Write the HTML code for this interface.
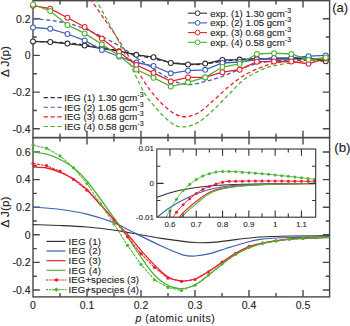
<!DOCTYPE html>
<html><head><meta charset="utf-8"><style>
html,body{margin:0;padding:0;background:#fff;width:350px;height:326px;overflow:hidden}
svg{display:block}
text{stroke:#222;stroke-width:0.12px}
.thin text{stroke-width:0.08px}
</style></head><body>
<svg width="350" height="326" viewBox="0 0 350 326"><defs><clipPath id="ca"><rect x="29" y="-5" width="304.6" height="142.6"/></clipPath><clipPath id="cb"><rect x="29" y="137.6" width="304.6" height="159.3"/></clipPath><clipPath id="ci"><rect x="156.8" y="149" width="158.9" height="68.2"/></clipPath></defs><g fill="none" stroke="#484848" stroke-width="1.4"><rect x="33.0" y="0.7" width="296.60" height="136.90"/><rect x="33.0" y="137.6" width="296.60" height="159.30"/><path d="M33.0,18.70h6.8M329.6,18.70h-6.8M33.0,55.40h6.8M329.6,55.40h-6.8M33.0,92.10h6.8M329.6,92.10h-6.8M33.0,128.80h6.8M329.6,128.80h-6.8M33.0,37.05h3.8M329.6,37.05h-3.8M33.0,73.75h3.8M329.6,73.75h-3.8M33.0,110.45h3.8M329.6,110.45h-3.8M87.00,0.7v6.8M87.00,137.6v-6.8M141.00,0.7v6.8M141.00,137.6v-6.8M195.00,0.7v6.8M195.00,137.6v-6.8M249.00,0.7v6.8M249.00,137.6v-6.8M303.00,0.7v6.8M303.00,137.6v-6.8M60.00,0.7v3.8M60.00,137.6v-3.8M114.00,0.7v3.8M114.00,137.6v-3.8M168.00,0.7v3.8M168.00,137.6v-3.8M222.00,0.7v3.8M222.00,137.6v-3.8M276.00,0.7v3.8M276.00,137.6v-3.8"/><path d="M33.0,152.00h6.8M329.6,152.00h-6.8M33.0,179.60h6.8M329.6,179.60h-6.8M33.0,207.20h6.8M329.6,207.20h-6.8M33.0,234.80h6.8M329.6,234.80h-6.8M33.0,262.40h6.8M329.6,262.40h-6.8M33.0,290.00h6.8M329.6,290.00h-6.8M33.0,165.80h3.8M329.6,165.80h-3.8M33.0,193.40h3.8M329.6,193.40h-3.8M33.0,221.00h3.8M329.6,221.00h-3.8M33.0,248.60h3.8M329.6,248.60h-3.8M33.0,276.20h3.8M329.6,276.20h-3.8M87.00,137.6v6.8M87.00,296.9v-6.8M141.00,137.6v6.8M141.00,296.9v-6.8M195.00,137.6v6.8M195.00,296.9v-6.8M249.00,137.6v6.8M249.00,296.9v-6.8M303.00,137.6v6.8M303.00,296.9v-6.8M60.00,137.6v3.8M60.00,296.9v-3.8M114.00,137.6v3.8M114.00,296.9v-3.8M168.00,137.6v3.8M168.00,296.9v-3.8M222.00,137.6v3.8M222.00,296.9v-3.8M276.00,137.6v3.8M276.00,296.9v-3.8"/></g><g clip-path="url(#ca)" fill="none"><path d="M33.00,41.50 C37.50,41.67 50.50,41.83 60.00,42.50 C69.50,43.17 80.00,44.08 90.00,45.50 C100.00,46.92 110.00,48.92 120.00,51.00 C130.00,53.08 140.83,56.00 150.00,58.00 C159.17,60.00 167.50,61.92 175.00,63.00 C182.50,64.08 188.33,64.58 195.00,64.50 C201.67,64.42 207.50,63.33 215.00,62.50 C222.50,61.67 230.83,60.17 240.00,59.50 C249.17,58.83 260.00,58.62 270.00,58.50 C280.00,58.38 290.07,58.72 300.00,58.80 C309.93,58.88 324.67,58.97 329.60,59.00" stroke="#303030" stroke-width="1.3" stroke-dasharray="4,2.6"/><path d="M33.00,18.60 C36.67,19.00 47.17,19.60 55.00,21.00 C62.83,22.40 70.00,23.27 80.00,27.00 C90.00,30.73 105.00,37.90 115.00,43.40 C125.00,48.90 130.55,53.92 140.00,60.00 C149.45,66.08 163.62,75.82 171.70,79.90 C179.78,83.98 182.88,84.25 188.50,84.50 C194.12,84.75 199.67,82.78 205.40,81.40 C211.13,80.02 217.07,78.25 222.90,76.20 C228.73,74.15 234.63,71.22 240.40,69.10 C246.17,66.98 250.90,64.93 257.50,63.50 C264.10,62.07 271.25,61.17 280.00,60.50 C288.75,59.83 301.73,59.70 310.00,59.50 C318.27,59.30 326.33,59.33 329.60,59.30" stroke="#4060b5" stroke-width="1.3" stroke-dasharray="4,2.6"/><path d="M82.00,-12.00 C83.50,-10.00 87.17,-5.33 91.00,0.00 C94.83,5.33 100.40,13.33 105.00,20.00 C109.60,26.67 113.77,32.50 118.60,40.00 C123.43,47.50 128.77,56.67 134.00,65.00 C139.23,73.33 144.72,82.97 150.00,90.00 C155.28,97.03 160.47,102.80 165.70,107.20 C170.93,111.60 176.15,115.35 181.40,116.40 C186.65,117.45 191.95,116.08 197.20,113.50 C202.45,110.92 207.67,105.37 212.90,100.90 C218.13,96.43 223.37,90.98 228.60,86.70 C233.83,82.42 239.07,78.33 244.30,75.20 C249.53,72.07 254.88,69.93 260.00,67.90 C265.12,65.87 268.33,64.23 275.00,63.00 C281.67,61.77 290.90,61.00 300.00,60.50 C309.10,60.00 324.67,60.08 329.60,60.00" stroke="#ec1e2e" stroke-width="1.3" stroke-dasharray="4,2.6"/><path d="M88.00,-12.00 C89.33,-10.00 93.00,-5.00 96.00,0.00 C99.00,5.00 102.52,11.67 106.00,18.00 C109.48,24.33 112.90,30.33 116.90,38.00 C120.90,45.67 125.72,55.38 130.00,64.00 C134.28,72.62 139.27,83.53 142.60,89.70 C145.93,95.87 146.15,96.25 150.00,101.00 C153.85,105.75 160.72,113.90 165.70,118.20 C170.68,122.50 174.65,126.02 179.90,126.80 C185.15,127.58 191.70,125.65 197.20,122.90 C202.70,120.15 207.67,115.02 212.90,110.30 C218.13,105.58 223.37,99.77 228.60,94.60 C233.83,89.43 239.07,83.32 244.30,79.30 C249.53,75.28 254.88,72.80 260.00,70.50 C265.12,68.20 268.33,66.92 275.00,65.50 C281.67,64.08 290.90,62.75 300.00,62.00 C309.10,61.25 324.67,61.17 329.60,61.00" stroke="#4eb234" stroke-width="1.3" stroke-dasharray="4,2.6"/><path d="M33.00,41.40 L50.22,42.00 L67.44,43.60 L84.66,45.60 L101.88,48.50 L119.10,51.20 L136.32,54.80 L153.54,57.20 L170.76,63.00 L187.98,64.50 L205.20,63.60 L222.42,60.00 L239.64,59.60 L256.86,58.60 L274.08,59.00 L291.30,58.50 L308.52,58.00 L325.74,61.30" stroke="#303030" stroke-width="1.3"/><circle cx="33.00" cy="41.40" r="2.45" fill="#fff" stroke="#303030" stroke-width="1.05"/><circle cx="50.22" cy="42.00" r="2.45" fill="#fff" stroke="#303030" stroke-width="1.05"/><circle cx="67.44" cy="43.60" r="2.45" fill="#fff" stroke="#303030" stroke-width="1.05"/><circle cx="84.66" cy="45.60" r="2.45" fill="#fff" stroke="#303030" stroke-width="1.05"/><circle cx="101.88" cy="48.50" r="2.45" fill="#fff" stroke="#303030" stroke-width="1.05"/><circle cx="119.10" cy="51.20" r="2.45" fill="#fff" stroke="#303030" stroke-width="1.05"/><circle cx="136.32" cy="54.80" r="2.45" fill="#fff" stroke="#303030" stroke-width="1.05"/><circle cx="153.54" cy="57.20" r="2.45" fill="#fff" stroke="#303030" stroke-width="1.05"/><circle cx="170.76" cy="63.00" r="2.45" fill="#fff" stroke="#303030" stroke-width="1.05"/><circle cx="187.98" cy="64.50" r="2.45" fill="#fff" stroke="#303030" stroke-width="1.05"/><circle cx="205.20" cy="63.60" r="2.45" fill="#fff" stroke="#303030" stroke-width="1.05"/><circle cx="222.42" cy="60.00" r="2.45" fill="#fff" stroke="#303030" stroke-width="1.05"/><circle cx="239.64" cy="59.60" r="2.45" fill="#fff" stroke="#303030" stroke-width="1.05"/><circle cx="256.86" cy="58.60" r="2.45" fill="#fff" stroke="#303030" stroke-width="1.05"/><circle cx="274.08" cy="59.00" r="2.45" fill="#fff" stroke="#303030" stroke-width="1.05"/><circle cx="291.30" cy="58.50" r="2.45" fill="#fff" stroke="#303030" stroke-width="1.05"/><circle cx="308.52" cy="58.00" r="2.45" fill="#fff" stroke="#303030" stroke-width="1.05"/><circle cx="325.74" cy="61.30" r="2.45" fill="#fff" stroke="#303030" stroke-width="1.05"/><path d="M33.00,27.50 L50.22,28.80 L67.44,34.00 L84.66,40.40 L101.88,50.00 L119.10,56.50 L136.32,62.50 L153.54,66.00 L170.76,73.30 L187.98,70.70 L205.20,69.80 L222.42,63.00 L239.64,62.00 L256.86,59.50 L274.08,58.00 L291.30,57.80 L308.52,56.20 L325.74,55.40" stroke="#4060b5" stroke-width="1.3"/><circle cx="33.00" cy="27.50" r="2.45" fill="#fff" stroke="#4060b5" stroke-width="1.05"/><circle cx="50.22" cy="28.80" r="2.45" fill="#fff" stroke="#4060b5" stroke-width="1.05"/><circle cx="67.44" cy="34.00" r="2.45" fill="#fff" stroke="#4060b5" stroke-width="1.05"/><circle cx="84.66" cy="40.40" r="2.45" fill="#fff" stroke="#4060b5" stroke-width="1.05"/><circle cx="101.88" cy="50.00" r="2.45" fill="#fff" stroke="#4060b5" stroke-width="1.05"/><circle cx="119.10" cy="56.50" r="2.45" fill="#fff" stroke="#4060b5" stroke-width="1.05"/><circle cx="136.32" cy="62.50" r="2.45" fill="#fff" stroke="#4060b5" stroke-width="1.05"/><circle cx="153.54" cy="66.00" r="2.45" fill="#fff" stroke="#4060b5" stroke-width="1.05"/><circle cx="170.76" cy="73.30" r="2.45" fill="#fff" stroke="#4060b5" stroke-width="1.05"/><circle cx="187.98" cy="70.70" r="2.45" fill="#fff" stroke="#4060b5" stroke-width="1.05"/><circle cx="205.20" cy="69.80" r="2.45" fill="#fff" stroke="#4060b5" stroke-width="1.05"/><circle cx="222.42" cy="63.00" r="2.45" fill="#fff" stroke="#4060b5" stroke-width="1.05"/><circle cx="239.64" cy="62.00" r="2.45" fill="#fff" stroke="#4060b5" stroke-width="1.05"/><circle cx="256.86" cy="59.50" r="2.45" fill="#fff" stroke="#4060b5" stroke-width="1.05"/><circle cx="274.08" cy="58.00" r="2.45" fill="#fff" stroke="#4060b5" stroke-width="1.05"/><circle cx="291.30" cy="57.80" r="2.45" fill="#fff" stroke="#4060b5" stroke-width="1.05"/><circle cx="308.52" cy="56.20" r="2.45" fill="#fff" stroke="#4060b5" stroke-width="1.05"/><circle cx="325.74" cy="55.40" r="2.45" fill="#fff" stroke="#4060b5" stroke-width="1.05"/><path d="M33.00,5.70 L50.22,8.60 L67.44,17.70 L84.66,27.00 L101.88,38.60 L119.10,52.00 L136.32,65.00 L153.54,72.90 L170.76,81.40 L187.98,77.40 L205.20,77.40 L222.42,72.20 L239.64,69.70 L256.86,61.70 L274.08,61.50 L291.30,61.50 L308.52,63.80 L325.74,58.50" stroke="#ec1e2e" stroke-width="1.3"/><circle cx="33.00" cy="5.70" r="2.45" fill="#fff" stroke="#ec1e2e" stroke-width="1.05"/><circle cx="50.22" cy="8.60" r="2.45" fill="#fff" stroke="#ec1e2e" stroke-width="1.05"/><circle cx="67.44" cy="17.70" r="2.45" fill="#fff" stroke="#ec1e2e" stroke-width="1.05"/><circle cx="84.66" cy="27.00" r="2.45" fill="#fff" stroke="#ec1e2e" stroke-width="1.05"/><circle cx="101.88" cy="38.60" r="2.45" fill="#fff" stroke="#ec1e2e" stroke-width="1.05"/><circle cx="119.10" cy="52.00" r="2.45" fill="#fff" stroke="#ec1e2e" stroke-width="1.05"/><circle cx="136.32" cy="65.00" r="2.45" fill="#fff" stroke="#ec1e2e" stroke-width="1.05"/><circle cx="153.54" cy="72.90" r="2.45" fill="#fff" stroke="#ec1e2e" stroke-width="1.05"/><circle cx="170.76" cy="81.40" r="2.45" fill="#fff" stroke="#ec1e2e" stroke-width="1.05"/><circle cx="187.98" cy="77.40" r="2.45" fill="#fff" stroke="#ec1e2e" stroke-width="1.05"/><circle cx="205.20" cy="77.40" r="2.45" fill="#fff" stroke="#ec1e2e" stroke-width="1.05"/><circle cx="222.42" cy="72.20" r="2.45" fill="#fff" stroke="#ec1e2e" stroke-width="1.05"/><circle cx="239.64" cy="69.70" r="2.45" fill="#fff" stroke="#ec1e2e" stroke-width="1.05"/><circle cx="256.86" cy="61.70" r="2.45" fill="#fff" stroke="#ec1e2e" stroke-width="1.05"/><circle cx="274.08" cy="61.50" r="2.45" fill="#fff" stroke="#ec1e2e" stroke-width="1.05"/><circle cx="291.30" cy="61.50" r="2.45" fill="#fff" stroke="#ec1e2e" stroke-width="1.05"/><circle cx="308.52" cy="63.80" r="2.45" fill="#fff" stroke="#ec1e2e" stroke-width="1.05"/><circle cx="325.74" cy="58.50" r="2.45" fill="#fff" stroke="#ec1e2e" stroke-width="1.05"/><path d="M33.00,4.50 L50.22,11.00 L67.44,25.00 L84.66,33.40 L101.88,44.30 L119.10,55.80 L136.32,69.50 L153.54,77.70 L170.76,86.60 L187.98,82.30 L205.20,77.40 L222.42,67.00 L239.64,64.00 L256.86,54.00 L274.08,53.20 L291.30,54.00 L308.52,59.80 L325.74,57.50" stroke="#4eb234" stroke-width="1.3"/><circle cx="33.00" cy="4.50" r="2.45" fill="#fff" stroke="#4eb234" stroke-width="1.05"/><circle cx="50.22" cy="11.00" r="2.45" fill="#fff" stroke="#4eb234" stroke-width="1.05"/><circle cx="67.44" cy="25.00" r="2.45" fill="#fff" stroke="#4eb234" stroke-width="1.05"/><circle cx="84.66" cy="33.40" r="2.45" fill="#fff" stroke="#4eb234" stroke-width="1.05"/><circle cx="101.88" cy="44.30" r="2.45" fill="#fff" stroke="#4eb234" stroke-width="1.05"/><circle cx="119.10" cy="55.80" r="2.45" fill="#fff" stroke="#4eb234" stroke-width="1.05"/><circle cx="136.32" cy="69.50" r="2.45" fill="#fff" stroke="#4eb234" stroke-width="1.05"/><circle cx="153.54" cy="77.70" r="2.45" fill="#fff" stroke="#4eb234" stroke-width="1.05"/><circle cx="170.76" cy="86.60" r="2.45" fill="#fff" stroke="#4eb234" stroke-width="1.05"/><circle cx="187.98" cy="82.30" r="2.45" fill="#fff" stroke="#4eb234" stroke-width="1.05"/><circle cx="205.20" cy="77.40" r="2.45" fill="#fff" stroke="#4eb234" stroke-width="1.05"/><circle cx="222.42" cy="67.00" r="2.45" fill="#fff" stroke="#4eb234" stroke-width="1.05"/><circle cx="239.64" cy="64.00" r="2.45" fill="#fff" stroke="#4eb234" stroke-width="1.05"/><circle cx="256.86" cy="54.00" r="2.45" fill="#fff" stroke="#4eb234" stroke-width="1.05"/><circle cx="274.08" cy="53.20" r="2.45" fill="#fff" stroke="#4eb234" stroke-width="1.05"/><circle cx="291.30" cy="54.00" r="2.45" fill="#fff" stroke="#4eb234" stroke-width="1.05"/><circle cx="308.52" cy="59.80" r="2.45" fill="#fff" stroke="#4eb234" stroke-width="1.05"/><circle cx="325.74" cy="57.50" r="2.45" fill="#fff" stroke="#4eb234" stroke-width="1.05"/></g><g clip-path="url(#cb)" fill="none"><path d="M33.00,224.60 C37.62,224.75 51.75,225.10 60.70,225.50 C69.65,225.90 77.92,226.25 86.70,227.00 C95.48,227.75 106.07,229.00 113.40,230.00 C120.73,231.00 122.72,231.62 130.70,233.00 C138.68,234.38 150.58,236.72 161.30,238.30 C172.02,239.88 186.13,241.85 195.00,242.50 C203.87,243.15 207.42,242.73 214.50,242.20 C221.58,241.67 229.92,240.17 237.50,239.30 C245.08,238.43 251.25,237.55 260.00,237.00 C268.75,236.45 278.40,236.20 290.00,236.00 C301.60,235.80 323.00,235.83 329.60,235.80" stroke="#303030" stroke-width="1.2"/><path d="M33.00,207.10 C37.62,207.50 51.75,208.33 60.70,209.50 C69.65,210.67 77.92,211.95 86.70,214.10 C95.48,216.25 106.07,219.58 113.40,222.40 C120.73,225.22 122.72,227.07 130.70,231.00 C138.68,234.93 152.62,242.03 161.30,246.00 C169.98,249.97 177.18,253.13 182.80,254.80 C188.42,256.47 190.48,256.18 195.00,256.00 C199.52,255.82 204.73,254.95 209.90,253.70 C215.07,252.45 220.25,250.28 226.00,248.50 C231.75,246.72 238.73,244.53 244.40,243.00 C250.07,241.47 252.40,240.22 260.00,239.30 C267.60,238.38 278.40,237.88 290.00,237.50 C301.60,237.12 323.00,237.08 329.60,237.00" stroke="#4060b5" stroke-width="1.2"/><path d="M33.00,167.00 C35.32,167.17 42.38,167.10 46.90,168.00 C51.42,168.90 55.58,170.53 60.10,172.40 C64.62,174.27 69.53,176.35 74.00,179.20 C78.47,182.05 83.40,186.25 86.90,189.50 C90.40,192.75 90.48,193.70 95.00,198.70 C99.52,203.70 108.48,213.45 114.00,219.50 C119.52,225.55 123.20,229.40 128.10,235.00 C133.00,240.60 138.55,247.67 143.40,253.10 C148.25,258.53 153.10,263.62 157.20,267.60 C161.30,271.58 164.03,274.77 168.00,277.00 C171.97,279.23 176.50,280.67 181.00,281.00 C185.50,281.33 190.50,280.57 195.00,279.00 C199.50,277.43 203.53,274.35 208.00,271.60 C212.47,268.85 217.27,265.52 221.80,262.50 C226.33,259.48 230.75,256.12 235.20,253.50 C239.65,250.88 244.03,248.52 248.50,246.80 C252.97,245.08 257.50,244.20 262.00,243.20 C266.50,242.20 271.03,241.48 275.50,240.80 C279.97,240.12 284.35,239.52 288.80,239.10 C293.25,238.68 295.40,238.62 302.20,238.30 C309.00,237.98 325.03,237.38 329.60,237.20" stroke="#ec1e2e" stroke-width="1.3"/><path d="M33.00,152.00 C35.28,152.35 42.18,152.85 46.70,154.10 C51.22,155.35 55.55,157.18 60.10,159.50 C64.65,161.82 69.53,164.42 74.00,168.00 C78.47,171.58 82.98,176.50 86.90,181.00 C90.82,185.50 93.08,188.98 97.50,195.00 C101.92,201.02 108.60,210.43 113.40,217.10 C118.20,223.77 122.00,228.77 126.30,235.00 C130.60,241.23 134.75,248.08 139.20,254.50 C143.65,260.92 148.65,268.58 153.00,273.50 C157.35,278.42 161.13,281.50 165.30,284.00 C169.47,286.50 173.88,288.00 178.00,288.50 C182.12,289.00 186.33,288.08 190.00,287.00 C193.67,285.92 197.00,283.90 200.00,282.00 C203.00,280.10 204.37,278.52 208.00,275.60 C211.63,272.68 217.27,267.97 221.80,264.50 C226.33,261.03 230.75,257.55 235.20,254.80 C239.65,252.05 244.03,249.88 248.50,248.00 C252.97,246.12 257.50,244.67 262.00,243.50 C266.50,242.33 271.03,241.70 275.50,241.00 C279.97,240.30 284.35,239.72 288.80,239.30 C293.25,238.88 295.40,238.80 302.20,238.50 C309.00,238.20 325.03,237.67 329.60,237.50" stroke="#4eb234" stroke-width="1.3"/><path d="M33.00,163.50 L46.50,165.70 L60.00,171.20 L73.50,179.50 L87.00,190.20 L100.50,204.00 L114.00,220.00 L127.50,236.80 L141.00,253.70 L154.50,267.50 L168.00,278.20 L181.50,281.30 L195.00,279.50 L208.50,272.10 L222.00,262.20 L235.50,253.30 L249.00,246.40 L262.50,243.20 L276.00,240.80 L289.50,239.10 L303.00,238.30 L316.50,237.60" stroke="#ec1e2e" stroke-width="1.05" stroke-dasharray="3,0.9"/><circle cx="33.00" cy="163.50" r="1.6" fill="#ec1e2e"/><circle cx="46.50" cy="165.70" r="1.6" fill="#ec1e2e"/><circle cx="60.00" cy="171.20" r="1.6" fill="#ec1e2e"/><circle cx="73.50" cy="179.50" r="1.6" fill="#ec1e2e"/><circle cx="87.00" cy="190.20" r="1.6" fill="#ec1e2e"/><circle cx="100.50" cy="204.00" r="1.6" fill="#ec1e2e"/><circle cx="114.00" cy="220.00" r="1.6" fill="#ec1e2e"/><circle cx="127.50" cy="236.80" r="1.6" fill="#ec1e2e"/><circle cx="141.00" cy="253.70" r="1.6" fill="#ec1e2e"/><circle cx="154.50" cy="267.50" r="1.6" fill="#ec1e2e"/><circle cx="168.00" cy="278.20" r="1.6" fill="#ec1e2e"/><circle cx="181.50" cy="281.30" r="1.6" fill="#ec1e2e"/><circle cx="195.00" cy="279.50" r="1.6" fill="#ec1e2e"/><circle cx="208.50" cy="272.10" r="1.6" fill="#ec1e2e"/><circle cx="222.00" cy="262.20" r="1.6" fill="#ec1e2e"/><circle cx="235.50" cy="253.30" r="1.6" fill="#ec1e2e"/><circle cx="249.00" cy="246.40" r="1.6" fill="#ec1e2e"/><circle cx="262.50" cy="243.20" r="1.6" fill="#ec1e2e"/><circle cx="276.00" cy="240.80" r="1.6" fill="#ec1e2e"/><circle cx="289.50" cy="239.10" r="1.6" fill="#ec1e2e"/><circle cx="303.00" cy="238.30" r="1.6" fill="#ec1e2e"/><circle cx="316.50" cy="237.60" r="1.6" fill="#ec1e2e"/><path d="M33.00,145.10 L46.50,148.20 L60.00,155.90 L73.50,167.80 L87.00,183.50 L100.50,204.00 L114.00,224.00 L127.50,245.40 L141.00,264.40 L154.50,279.80 L168.00,287.40 L181.50,290.50 L195.00,285.20 L208.50,275.10 L222.00,264.10 L235.50,254.40 L249.00,247.50 L262.50,243.20 L276.00,240.80 L289.50,239.10 L303.00,238.30 L316.50,237.60" stroke="#4eb234" stroke-width="1.05" stroke-dasharray="3,0.9"/><circle cx="33.00" cy="145.10" r="1.6" fill="#4eb234"/><circle cx="46.50" cy="148.20" r="1.6" fill="#4eb234"/><circle cx="60.00" cy="155.90" r="1.6" fill="#4eb234"/><circle cx="73.50" cy="167.80" r="1.6" fill="#4eb234"/><circle cx="87.00" cy="183.50" r="1.6" fill="#4eb234"/><circle cx="100.50" cy="204.00" r="1.6" fill="#4eb234"/><circle cx="114.00" cy="224.00" r="1.6" fill="#4eb234"/><circle cx="127.50" cy="245.40" r="1.6" fill="#4eb234"/><circle cx="141.00" cy="264.40" r="1.6" fill="#4eb234"/><circle cx="154.50" cy="279.80" r="1.6" fill="#4eb234"/><circle cx="168.00" cy="287.40" r="1.6" fill="#4eb234"/><circle cx="181.50" cy="290.50" r="1.6" fill="#4eb234"/><circle cx="195.00" cy="285.20" r="1.6" fill="#4eb234"/><circle cx="208.50" cy="275.10" r="1.6" fill="#4eb234"/><circle cx="222.00" cy="264.10" r="1.6" fill="#4eb234"/><circle cx="235.50" cy="254.40" r="1.6" fill="#4eb234"/><circle cx="249.00" cy="247.50" r="1.6" fill="#4eb234"/><circle cx="262.50" cy="243.20" r="1.6" fill="#4eb234"/><circle cx="276.00" cy="240.80" r="1.6" fill="#4eb234"/><circle cx="289.50" cy="239.10" r="1.6" fill="#4eb234"/><circle cx="303.00" cy="238.30" r="1.6" fill="#4eb234"/><circle cx="316.50" cy="237.60" r="1.6" fill="#4eb234"/></g><g font-family="Liberation Sans, sans-serif" fill="#222"><text x="30.50" y="22.50" font-size="10.5" text-anchor="end" >0.2</text><text x="30.50" y="59.20" font-size="10.5" text-anchor="end" >0</text><text x="30.50" y="95.90" font-size="10.5" text-anchor="end" >-0.2</text><text x="30.50" y="132.60" font-size="10.5" text-anchor="end" >-0.4</text><text x="30.50" y="155.80" font-size="10.5" text-anchor="end" >0.6</text><text x="30.50" y="183.40" font-size="10.5" text-anchor="end" >0.4</text><text x="30.50" y="211.00" font-size="10.5" text-anchor="end" >0.2</text><text x="30.50" y="238.60" font-size="10.5" text-anchor="end" >0</text><text x="30.50" y="266.20" font-size="10.5" text-anchor="end" >-0.2</text><text x="30.50" y="293.80" font-size="10.5" text-anchor="end" >-0.4</text><text x="33.00" y="308.80" font-size="10.5" text-anchor="middle" >0</text><text x="87.00" y="308.80" font-size="10.5" text-anchor="middle" >0.1</text><text x="141.00" y="308.80" font-size="10.5" text-anchor="middle" >0.2</text><text x="195.00" y="308.80" font-size="10.5" text-anchor="middle" >0.3</text><text x="249.00" y="308.80" font-size="10.5" text-anchor="middle" >0.4</text><text x="303.00" y="308.80" font-size="10.5" text-anchor="middle" >0.5</text><text x="135.5" y="321.8" font-size="10.5" letter-spacing="0.5"><tspan font-style="italic">p</tspan> (atomic units)</text><text transform="translate(9,61.5) rotate(-90)" font-size="11.8" text-anchor="middle">Δ J(p)</text><text transform="translate(9,212) rotate(-90)" font-size="11.8" text-anchor="middle">Δ J(p)</text><text x="332.2" y="12" font-size="13">(a)</text><text x="334.3" y="151.5" font-size="13.3">(b)</text></g><g font-family="Liberation Sans, sans-serif" fill="#222" font-size="9.6"><path d="M187.8,13.2H207" stroke="#303030" stroke-width="1.1"/><circle cx="197.6" cy="13.2" r="2.4" fill="#fff" stroke="#303030" stroke-width="1"/><text x="210.2" y="16.60">exp. (1) 1.30 gcm<tspan font-size="7" dy="-4">-3</tspan></text><path d="M187.8,22.9H207" stroke="#4060b5" stroke-width="1.1"/><circle cx="197.6" cy="22.9" r="2.4" fill="#fff" stroke="#4060b5" stroke-width="1"/><text x="210.2" y="26.30">exp. (2) 1.05 gcm<tspan font-size="7" dy="-4">-3</tspan></text><path d="M187.8,32.6H207" stroke="#ec1e2e" stroke-width="1.1"/><circle cx="197.6" cy="32.6" r="2.4" fill="#fff" stroke="#ec1e2e" stroke-width="1"/><text x="210.2" y="36.00">exp. (3) 0.68 gcm<tspan font-size="7" dy="-4">-3</tspan></text><path d="M187.8,42.3H207" stroke="#4eb234" stroke-width="1.1"/><circle cx="197.6" cy="42.3" r="2.4" fill="#fff" stroke="#4eb234" stroke-width="1"/><text x="210.2" y="45.70">exp. (4) 0.58 gcm<tspan font-size="7" dy="-4">-3</tspan></text><path d="M43.6,97.6H62.3" stroke="#303030" stroke-width="1.1" stroke-dasharray="4.3,2.6"/><text x="64.3" y="101.00">IEG (1) 1.30 gcm<tspan font-size="7" dy="-4">-3</tspan></text><path d="M43.6,107.2H62.3" stroke="#4060b5" stroke-width="1.1" stroke-dasharray="4.3,2.6"/><text x="64.3" y="110.60">IEG (2) 1.05 gcm<tspan font-size="7" dy="-4">-3</tspan></text><path d="M43.6,116.9H62.3" stroke="#ec1e2e" stroke-width="1.1" stroke-dasharray="4.3,2.6"/><text x="64.3" y="120.30">IEG (3) 0.68 gcm<tspan font-size="7" dy="-4">-3</tspan></text><path d="M43.6,126.5H62.3" stroke="#4eb234" stroke-width="1.1" stroke-dasharray="4.3,2.6"/><text x="64.3" y="129.90">IEG (4) 0.58 gcm<tspan font-size="7" dy="-4">-3</tspan></text><path d="M46.5,241.4H65.5" stroke="#303030" stroke-width="1.2"/><text x="68.6" y="244.80" letter-spacing="0.25">IEG (1)</text><path d="M46.5,251.0H65.5" stroke="#4060b5" stroke-width="1.2"/><text x="68.6" y="254.40" letter-spacing="0.25">IEG (2)</text><path d="M46.5,260.7H65.5" stroke="#ec1e2e" stroke-width="1.2"/><text x="68.6" y="264.10" letter-spacing="0.25">IEG (3)</text><path d="M46.5,270.3H65.5" stroke="#4eb234" stroke-width="1.2"/><text x="68.6" y="273.70" letter-spacing="0.25">IEG (4)</text><path d="M46,280.0H66.5" stroke="#ec1e2e" stroke-width="1.2" stroke-dasharray="2.2,0.9"/><path d="M53.9,280.0L56.3,277.90L58.7,280.0L56.3,282.10Z" fill="#ec1e2e"/><text x="68.6" y="283.40" letter-spacing="0.1">IEG+species (3)</text><path d="M46,289.6H66.5" stroke="#4eb234" stroke-width="1.2" stroke-dasharray="2.2,0.9"/><path d="M53.9,289.6L56.3,287.50L58.7,289.6L56.3,291.70Z" fill="#4eb234"/><text x="68.6" y="293.00" letter-spacing="0.1">IEG+species (4)</text></g><rect x="156.8" y="149.0" width="158.90" height="68.20" fill="#fff"/><g clip-path="url(#ci)" fill="none"><path d="M156.80,197.40 C158.80,196.72 164.50,194.57 168.80,193.30 C173.10,192.03 178.00,190.77 182.60,189.80 C187.20,188.83 191.42,188.18 196.40,187.50 C201.38,186.82 206.07,186.20 212.50,185.70 C218.93,185.20 225.42,184.82 235.00,184.50 C244.58,184.18 256.55,183.97 270.00,183.80 C283.45,183.63 308.08,183.55 315.70,183.50" stroke="#303030" stroke-width="1.1"/><path d="M150.00,222.00 C151.13,221.23 153.67,219.70 156.80,217.40 C159.93,215.10 164.50,211.07 168.80,208.20 C173.10,205.33 178.00,202.62 182.60,200.20 C187.20,197.78 191.42,195.62 196.40,193.70 C201.38,191.78 206.07,190.12 212.50,188.70 C218.93,187.28 225.42,186.00 235.00,185.20 C244.58,184.40 256.55,184.18 270.00,183.90 C283.45,183.62 308.08,183.57 315.70,183.50" stroke="#4060b5" stroke-width="1.1"/><path d="M172.00,232.00 C173.18,229.57 175.03,222.52 179.10,217.40 C183.17,212.28 190.83,205.70 196.40,201.30 C201.97,196.90 206.07,193.48 212.50,191.00 C218.93,188.52 225.42,187.53 235.00,186.40 C244.58,185.27 256.55,184.67 270.00,184.20 C283.45,183.73 308.08,183.70 315.70,183.60" stroke="#ec1e2e" stroke-width="1.1"/><path d="M174.00,232.00 C175.23,229.57 177.67,222.13 181.40,217.40 C185.13,212.67 191.22,207.82 196.40,203.60 C201.58,199.38 206.07,194.90 212.50,192.10 C218.93,189.30 225.42,188.08 235.00,186.80 C244.58,185.52 256.55,184.92 270.00,184.40 C283.45,183.88 308.08,183.82 315.70,183.70" stroke="#4eb234" stroke-width="1.1"/><path d="M159.00,232.00 C160.17,229.57 164.17,220.98 166.00,217.40 C167.83,213.82 168.32,213.45 170.00,210.50 C171.68,207.55 174.00,202.95 176.10,199.70 C178.20,196.45 180.37,193.53 182.60,191.00 C184.83,188.47 187.20,186.42 189.50,184.50 C191.80,182.58 194.18,180.92 196.40,179.50 C198.62,178.08 200.62,176.97 202.80,176.00 C204.98,175.03 207.32,174.35 209.50,173.70 C211.68,173.05 213.68,172.48 215.90,172.10 C218.12,171.72 219.62,171.48 222.80,171.40 C225.98,171.32 228.80,171.25 235.00,171.60 C241.20,171.95 250.83,172.68 260.00,173.50 C269.17,174.32 280.72,175.50 290.00,176.50 C299.28,177.50 311.42,179.00 315.70,179.50" stroke="#4eb234" stroke-width="0.9"/><path d="M170.00,222.00 C170.95,220.55 173.60,216.10 175.70,213.30 C177.80,210.50 180.30,207.58 182.60,205.20 C184.90,202.82 187.20,200.98 189.50,199.00 C191.80,197.02 194.18,194.90 196.40,193.30 C198.62,191.70 200.62,190.55 202.80,189.40 C204.98,188.25 207.32,187.28 209.50,186.40 C211.68,185.52 213.68,184.80 215.90,184.10 C218.12,183.40 220.62,182.67 222.80,182.20 C224.98,181.73 222.80,181.50 229.00,181.30 C235.20,181.10 245.55,181.00 260.00,181.00 C274.45,181.00 306.42,181.25 315.70,181.30" stroke="#ec1e2e" stroke-width="0.9"/><circle cx="163.38" cy="222.87" r="1.5" fill="#4eb234"/><circle cx="169.95" cy="210.59" r="1.5" fill="#4eb234"/><circle cx="176.53" cy="199.13" r="1.5" fill="#4eb234"/><circle cx="176.53" cy="212.33" r="1.5" fill="#ec1e2e"/><circle cx="183.10" cy="190.53" r="1.5" fill="#4eb234"/><circle cx="183.10" cy="204.75" r="1.5" fill="#ec1e2e"/><circle cx="189.68" cy="184.37" r="1.5" fill="#4eb234"/><circle cx="189.68" cy="198.86" r="1.5" fill="#ec1e2e"/><circle cx="196.25" cy="179.61" r="1.5" fill="#4eb234"/><circle cx="196.25" cy="193.42" r="1.5" fill="#ec1e2e"/><circle cx="202.83" cy="175.99" r="1.5" fill="#4eb234"/><circle cx="202.83" cy="189.39" r="1.5" fill="#ec1e2e"/><circle cx="209.40" cy="173.73" r="1.5" fill="#4eb234"/><circle cx="209.40" cy="186.44" r="1.5" fill="#ec1e2e"/><circle cx="215.98" cy="172.09" r="1.5" fill="#4eb234"/><circle cx="215.98" cy="184.08" r="1.5" fill="#ec1e2e"/><circle cx="222.55" cy="171.43" r="1.5" fill="#4eb234"/><circle cx="222.55" cy="182.27" r="1.5" fill="#ec1e2e"/><circle cx="229.12" cy="171.50" r="1.5" fill="#4eb234"/><circle cx="229.12" cy="181.30" r="1.5" fill="#ec1e2e"/><circle cx="235.70" cy="171.65" r="1.5" fill="#4eb234"/><circle cx="235.70" cy="181.24" r="1.5" fill="#ec1e2e"/><circle cx="242.28" cy="172.15" r="1.5" fill="#4eb234"/><circle cx="242.28" cy="181.17" r="1.5" fill="#ec1e2e"/><circle cx="248.85" cy="172.65" r="1.5" fill="#4eb234"/><circle cx="248.85" cy="181.11" r="1.5" fill="#ec1e2e"/><circle cx="255.43" cy="173.15" r="1.5" fill="#4eb234"/><circle cx="255.43" cy="181.04" r="1.5" fill="#ec1e2e"/><circle cx="262.00" cy="173.70" r="1.5" fill="#4eb234"/><circle cx="262.00" cy="181.01" r="1.5" fill="#ec1e2e"/><circle cx="268.58" cy="174.36" r="1.5" fill="#4eb234"/><circle cx="268.58" cy="181.05" r="1.5" fill="#ec1e2e"/><circle cx="275.15" cy="175.01" r="1.5" fill="#4eb234"/><circle cx="275.15" cy="181.08" r="1.5" fill="#ec1e2e"/><circle cx="281.73" cy="175.67" r="1.5" fill="#4eb234"/><circle cx="281.73" cy="181.12" r="1.5" fill="#ec1e2e"/><circle cx="288.30" cy="176.33" r="1.5" fill="#4eb234"/><circle cx="288.30" cy="181.15" r="1.5" fill="#ec1e2e"/><circle cx="294.88" cy="177.07" r="1.5" fill="#4eb234"/><circle cx="294.88" cy="181.19" r="1.5" fill="#ec1e2e"/><circle cx="301.45" cy="177.84" r="1.5" fill="#4eb234"/><circle cx="301.45" cy="181.22" r="1.5" fill="#ec1e2e"/><circle cx="308.02" cy="178.60" r="1.5" fill="#4eb234"/><circle cx="308.02" cy="181.26" r="1.5" fill="#ec1e2e"/><circle cx="314.60" cy="179.37" r="1.5" fill="#4eb234"/><circle cx="314.60" cy="181.29" r="1.5" fill="#ec1e2e"/></g><g fill="none" stroke="#333" stroke-width="1.1"><rect x="156.8" y="149.0" width="158.90" height="68.20"/><path d="M169.95,149.0v6.8M169.95,217.2v-6.8M196.25,149.0v6.8M196.25,217.2v-6.8M222.55,149.0v6.8M222.55,217.2v-6.8M248.85,149.0v6.8M248.85,217.2v-6.8M275.15,149.0v6.8M275.15,217.2v-6.8M301.45,149.0v6.8M301.45,217.2v-6.8M183.10,149.0v3.6M183.10,217.2v-3.6M209.40,149.0v3.6M209.40,217.2v-3.6M235.70,149.0v3.6M235.70,217.2v-3.6M262.00,149.0v3.6M262.00,217.2v-3.6M288.30,149.0v3.6M288.30,217.2v-3.6M156.8,183.40h6.8M315.7,183.40h-6.8M156.8,166.30h3.6M315.7,166.30h-3.6M156.8,200.50h3.6M315.7,200.50h-3.6"/></g><g font-family="Liberation Sans, sans-serif" fill="#222" font-size="8" class="thin"><text x="154.00" y="151.30" font-size="8" text-anchor="end" >0.01</text><text x="154.00" y="186.30" font-size="8" text-anchor="end" >0</text><text x="154.00" y="220.10" font-size="8" text-anchor="end" >-0.01</text><text x="169.95" y="226.50" font-size="8" text-anchor="middle" >0.6</text><text x="196.25" y="226.50" font-size="8" text-anchor="middle" >0.7</text><text x="222.55" y="226.50" font-size="8" text-anchor="middle" >0.8</text><text x="248.85" y="226.50" font-size="8" text-anchor="middle" >0.9</text><text x="275.15" y="226.50" font-size="8" text-anchor="middle" >1</text><text x="301.45" y="226.50" font-size="8" text-anchor="middle" >1.1</text></g></svg>
</body></html>
